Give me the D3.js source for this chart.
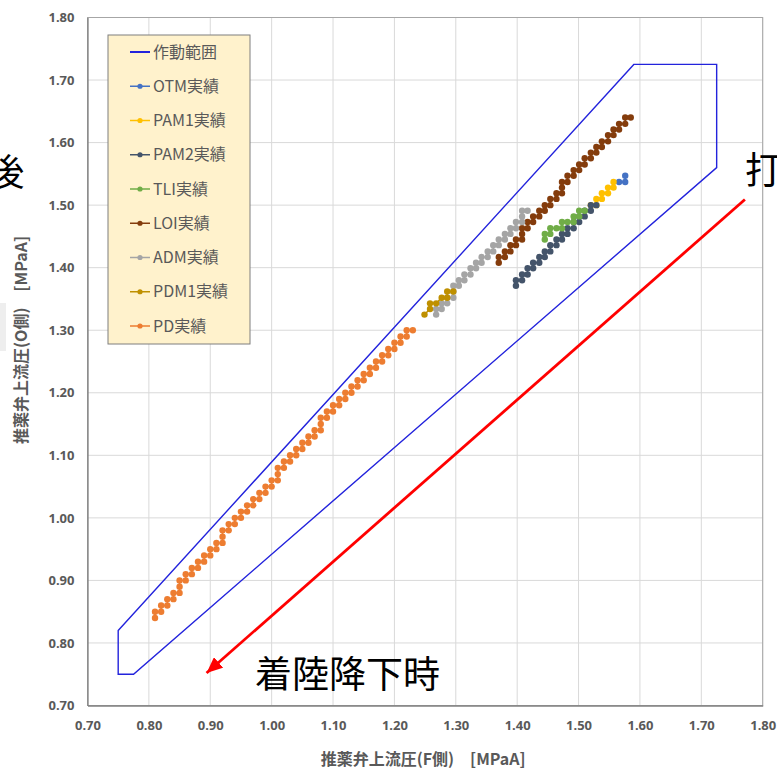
<!DOCTYPE html>
<html>
<head>
<meta charset="utf-8">
<script src="https://cdn.jsdelivr.net/npm/d3@7"></script>
<style>
  body { margin: 0; background: #fff; }
  svg { display: block; }
  .tick text { font-family: "Noto Sans", sans-serif; font-weight: bold; font-size: 13px; fill: #595959; }
</style>
</head>
<body>
<svg id="chart" width="777" height="771"></svg>
<script>
// axis ticks
const xTicks = [0.70, 0.80, 0.90, 1.00, 1.10, 1.20, 1.30, 1.40, 1.50, 1.60, 1.70, 1.80];
const yTicks = [0.70, 0.80, 0.90, 1.00, 1.10, 1.20, 1.30, 1.40, 1.50, 1.60, 1.70, 1.80];

// 作動範囲 (operating envelope)
const envelopeX = [0.75, 1.59, 1.725, 1.725, 0.775, 0.75];
const envelopeY = [0.82, 1.725, 1.725, 1.56, 0.75, 0.75];

// measured series [F側, O側]
const otm = [[1.566, 1.537], [1.576, 1.537], [1.576, 1.547]];
const pam1 = [[1.520, 1.500], [1.529, 1.500], [1.529, 1.510], [1.538, 1.510], [1.538, 1.519],
  [1.548, 1.519], [1.548, 1.528], [1.557, 1.528], [1.557, 1.537]];
const pam2 = [[1.398, 1.371], [1.398, 1.380], [1.408, 1.380], [1.408, 1.389], [1.417, 1.389],
  [1.417, 1.399], [1.426, 1.399], [1.426, 1.408], [1.436, 1.408], [1.436, 1.417], [1.445, 1.417],
  [1.445, 1.426], [1.454, 1.426], [1.454, 1.436], [1.464, 1.436], [1.464, 1.445], [1.473, 1.445],
  [1.473, 1.454], [1.482, 1.454], [1.482, 1.463], [1.492, 1.463], [1.492, 1.473], [1.501, 1.473],
  [1.501, 1.482], [1.510, 1.482], [1.510, 1.491], [1.520, 1.491], [1.520, 1.500], [1.529, 1.500]];
const tli = [[1.445, 1.445], [1.445, 1.454], [1.454, 1.454], [1.454, 1.463], [1.464, 1.463],
  [1.473, 1.463], [1.473, 1.473], [1.482, 1.473], [1.492, 1.473], [1.492, 1.482], [1.501, 1.482],
  [1.501, 1.491], [1.510, 1.491]];
const loi = [[1.370, 1.408], [1.370, 1.417], [1.380, 1.417], [1.380, 1.426], [1.389, 1.426],
  [1.389, 1.436], [1.398, 1.436], [1.398, 1.445], [1.408, 1.445], [1.408, 1.454], [1.408, 1.463],
  [1.417, 1.463], [1.417, 1.473], [1.426, 1.473], [1.426, 1.482], [1.436, 1.482], [1.436, 1.491],
  [1.445, 1.491], [1.445, 1.500], [1.454, 1.500], [1.454, 1.510], [1.464, 1.510], [1.464, 1.519],
  [1.473, 1.519], [1.473, 1.528], [1.473, 1.537], [1.482, 1.537], [1.482, 1.547], [1.492, 1.547],
  [1.492, 1.556], [1.501, 1.556], [1.501, 1.565], [1.510, 1.565], [1.510, 1.575], [1.520, 1.575],
  [1.520, 1.584], [1.529, 1.584], [1.529, 1.593], [1.538, 1.593], [1.538, 1.602], [1.548, 1.602],
  [1.548, 1.612], [1.557, 1.612], [1.557, 1.621], [1.566, 1.621], [1.566, 1.630], [1.576, 1.630],
  [1.576, 1.640], [1.585, 1.640]];
const adm = [[1.268, 1.325], [1.268, 1.334], [1.277, 1.334], [1.277, 1.343], [1.286, 1.343],
  [1.286, 1.352], [1.296, 1.352], [1.296, 1.362], [1.296, 1.371], [1.305, 1.371], [1.305, 1.380],
  [1.314, 1.380], [1.314, 1.389], [1.324, 1.389], [1.324, 1.399], [1.333, 1.399], [1.333, 1.408],
  [1.342, 1.408], [1.342, 1.417], [1.352, 1.417], [1.352, 1.426], [1.361, 1.426], [1.361, 1.436],
  [1.370, 1.436], [1.370, 1.445], [1.380, 1.445], [1.380, 1.454], [1.389, 1.454], [1.389, 1.463],
  [1.398, 1.463], [1.398, 1.473], [1.408, 1.473], [1.408, 1.482], [1.408, 1.491], [1.417, 1.491]];
const pdm1 = [[1.249, 1.325], [1.258, 1.334], [1.258, 1.343], [1.268, 1.343], [1.277, 1.352],
  [1.286, 1.352], [1.286, 1.362], [1.296, 1.362]];
const pd = [[0.81, 0.84], [0.81, 0.85], [0.82, 0.85], [0.82, 0.86], [0.83, 0.86], [0.83, 0.87],
  [0.84, 0.87], [0.84, 0.88], [0.85, 0.88], [0.85, 0.89], [0.85, 0.90], [0.86, 0.90], [0.86, 0.91],
  [0.87, 0.91], [0.87, 0.92], [0.88, 0.92], [0.88, 0.93], [0.89, 0.93], [0.89, 0.94], [0.90, 0.94],
  [0.90, 0.95], [0.91, 0.95], [0.91, 0.96], [0.92, 0.96], [0.92, 0.97], [0.92, 0.98], [0.93, 0.98],
  [0.93, 0.99], [0.94, 0.99], [0.94, 1.00], [0.95, 1.00], [0.95, 1.01], [0.96, 1.01], [0.96, 1.02],
  [0.97, 1.02], [0.97, 1.03], [0.98, 1.03], [0.98, 1.04], [0.99, 1.04], [0.99, 1.05], [1.00, 1.05],
  [1.00, 1.06], [1.01, 1.06], [1.01, 1.07], [1.01, 1.08], [1.02, 1.08], [1.02, 1.09], [1.03, 1.09],
  [1.03, 1.10], [1.04, 1.10], [1.04, 1.11], [1.05, 1.11], [1.05, 1.12], [1.06, 1.12], [1.06, 1.13],
  [1.07, 1.13], [1.07, 1.14], [1.08, 1.14], [1.08, 1.15], [1.08, 1.16], [1.09, 1.16], [1.09, 1.17],
  [1.10, 1.17], [1.10, 1.18], [1.11, 1.18], [1.11, 1.19], [1.12, 1.19], [1.12, 1.20], [1.13, 1.20],
  [1.13, 1.21], [1.14, 1.21], [1.14, 1.22], [1.15, 1.22], [1.15, 1.23], [1.16, 1.23], [1.16, 1.24],
  [1.17, 1.24], [1.17, 1.25], [1.18, 1.25], [1.18, 1.26], [1.19, 1.26], [1.19, 1.27], [1.20, 1.27],
  [1.20, 1.28], [1.21, 1.28], [1.21, 1.29], [1.22, 1.29], [1.22, 1.30], [1.23, 1.30]];

const seriesNames = ['OTM実績', 'PAM1実績', 'PAM2実績', 'TLI実績', 'LOI実績', 'ADM実績', 'PDM1実績', 'PD実績'];
const seriesData = [otm, pam1, pam2, tli, loi, adm, pdm1, pd];
const seriesColors = ['#4472C4', '#FFC000', '#44546A', '#70AD47', '#843C0C', '#A5A5A5', '#BF9000', '#ED7D31'];
const envelopeName = '作動範囲';
const envelopeColor = '#2323dc';

// red arrow (direction of landing descent), in data units
const arrowX = [1.771, 0.894];
const arrowY = [1.509, 0.752];

const margin = { top: 17.5, right: 14.3, bottom: 65.5, left: 87.5 };
const W = 777, H = 771;
const width = W - margin.left - margin.right;
const height = H - margin.top - margin.bottom;

const svg = d3.select('#chart');

const x = d3.scaleLinear().domain([0.7, 1.8]).range([margin.left, margin.left + width]);
const y = d3.scaleLinear().domain([0.7, 1.8]).range([margin.top + height, margin.top]);

// stray grey strip at the left edge (part of the neighbouring slide object)
svg.append('rect')
  .attr('x', 0).attr('y', 303).attr('width', 6).attr('height', 48)
  .attr('fill', '#eeeeee');

// gridlines
svg.append('g').selectAll('line.gx')
  .data(xTicks)
  .enter().append('line')
  .attr('x1', d => x(d)).attr('x2', d => x(d))
  .attr('y1', margin.top).attr('y2', margin.top + height)
  .attr('stroke', '#d9d9d9').attr('stroke-width', 1);
svg.append('g').selectAll('line.gy')
  .data(yTicks)
  .enter().append('line')
  .attr('x1', margin.left).attr('x2', margin.left + width)
  .attr('y1', d => y(d)).attr('y2', d => y(d))
  .attr('stroke', '#d9d9d9').attr('stroke-width', 1);

// plot frame
svg.append('rect')
  .attr('x', margin.left).attr('y', margin.top)
  .attr('width', width).attr('height', height)
  .attr('fill', 'none').attr('stroke', '#a6a6a6').attr('stroke-width', 1);

// axes
const fmt = d3.format('.2f');
const xAxis = svg.append('g')
  .attr('transform', `translate(0,${margin.top + height})`)
  .call(d3.axisBottom(x).tickValues(xTicks).tickFormat(fmt).tickSize(0).tickPadding(15));
const yAxis = svg.append('g')
  .attr('transform', `translate(${margin.left},0)`)
  .call(d3.axisLeft(y).tickValues(yTicks).tickFormat(fmt).tickSize(0).tickPadding(13));
xAxis.select('.domain').attr('stroke', '#808080').attr('stroke-width', 1.3);
yAxis.select('.domain').attr('stroke', '#808080').attr('stroke-width', 1.3);

// axis titles
svg.append('text')
  .attr('x', margin.left + width / 2 - 2).attr('y', 765)
  .attr('text-anchor', 'middle')
  .attr('font-family', '"Noto Sans CJK JP", sans-serif')
  .attr('font-weight', 'bold').attr('font-size', 16).attr('fill', '#595959')
  .text('推薬弁上流圧(F側)　[MPaA]');
svg.append('text')
  .attr('transform', 'translate(27,340) rotate(-90)')
  .attr('text-anchor', 'middle')
  .attr('font-family', '"Noto Sans CJK JP", sans-serif')
  .attr('font-weight', 'bold').attr('font-size', 16).attr('fill', '#595959')
  .text('推薬弁上流圧(O側)　[MPaA]');

// envelope polygon
const line = d3.line().x(d => x(d[0])).y(d => y(d[1]));
const envPts = envelopeX.map((v, i) => [v, envelopeY[i]]);
svg.append('path')
  .attr('d', line(envPts) + 'Z')
  .attr('fill', 'none').attr('stroke', envelopeColor).attr('stroke-width', 1.4);

// series
seriesData.forEach((pts, i) => {
  const g = svg.append('g');
  g.append('path')
    .attr('d', line(pts))
    .attr('fill', 'none').attr('stroke', seriesColors[i]).attr('stroke-width', 1.5);
  g.selectAll('circle')
    .data(pts)
    .enter().append('circle')
    .attr('cx', d => x(d[0])).attr('cy', d => y(d[1]))
    .attr('r', 3.2)
    .attr('fill', seriesColors[i]);
});

// red arrow
svg.append('defs').append('marker')
  .attr('id', 'arrowhead')
  .attr('markerUnits', 'userSpaceOnUse')
  .attr('markerWidth', 18).attr('markerHeight', 14)
  .attr('refX', 16).attr('refY', 7)
  .attr('orient', 'auto')
  .append('path')
  .attr('d', 'M0,0 L16,7 L0,14 Z')
  .attr('fill', '#ff0000');
svg.append('line')
  .attr('x1', x(arrowX[0])).attr('y1', y(arrowY[0]))
  .attr('x2', x(arrowX[1])).attr('y2', y(arrowY[1]))
  .attr('stroke', '#ff0000').attr('stroke-width', 2.8)
  .attr('marker-end', 'url(#arrowhead)');

// annotations
const bigFont = '"Noto Sans CJK JP", sans-serif';
svg.append('text')
  .attr('x', x(0.973)).attr('y', y(0.728))
  .attr('font-family', bigFont).attr('font-size', 37).attr('fill', '#000')
  .text('着陸降下時');
svg.append('text')
  .attr('x', x(0.597)).attr('y', y(1.53))
  .attr('text-anchor', 'end')
  .attr('font-family', bigFont).attr('font-size', 37).attr('fill', '#000')
  .text('後');
svg.append('text')
  .attr('x', x(1.771)).attr('y', y(1.534))
  .attr('font-family', bigFont).attr('font-size', 37).attr('fill', '#000')
  .text('打');

// legend
const legend = svg.append('g').attr('transform', 'translate(108,35)');
legend.append('rect')
  .attr('width', 142).attr('height', 309)
  .attr('fill', '#FFF2CC').attr('stroke', '#7f7f7f').attr('stroke-width', 1);
const legendItems = [{ name: envelopeName, color: envelopeColor, marker: false }]
  .concat(seriesNames.map((n, i) => ({ name: n, color: seriesColors[i], marker: true })));
const rowH = 34.25;
const item = legend.selectAll('g.item')
  .data(legendItems)
  .enter().append('g')
  .attr('class', 'item')
  .attr('transform', (d, i) => `translate(0,${17 + i * rowH})`);
item.append('line')
  .attr('x1', 22).attr('x2', 42)
  .attr('stroke', d => d.color).attr('stroke-width', d => d.marker ? 1.5 : 2);
item.filter(d => d.marker).append('circle')
  .attr('cx', 32).attr('r', 2.6).attr('fill', d => d.color);
item.append('text')
  .attr('x', 45).attr('y', 5.5)
  .attr('font-family', '"Noto Sans CJK JP", sans-serif')
  .attr('font-size', 16).attr('fill', '#595959')
  .text(d => d.name);
</script>
</body>
</html>
